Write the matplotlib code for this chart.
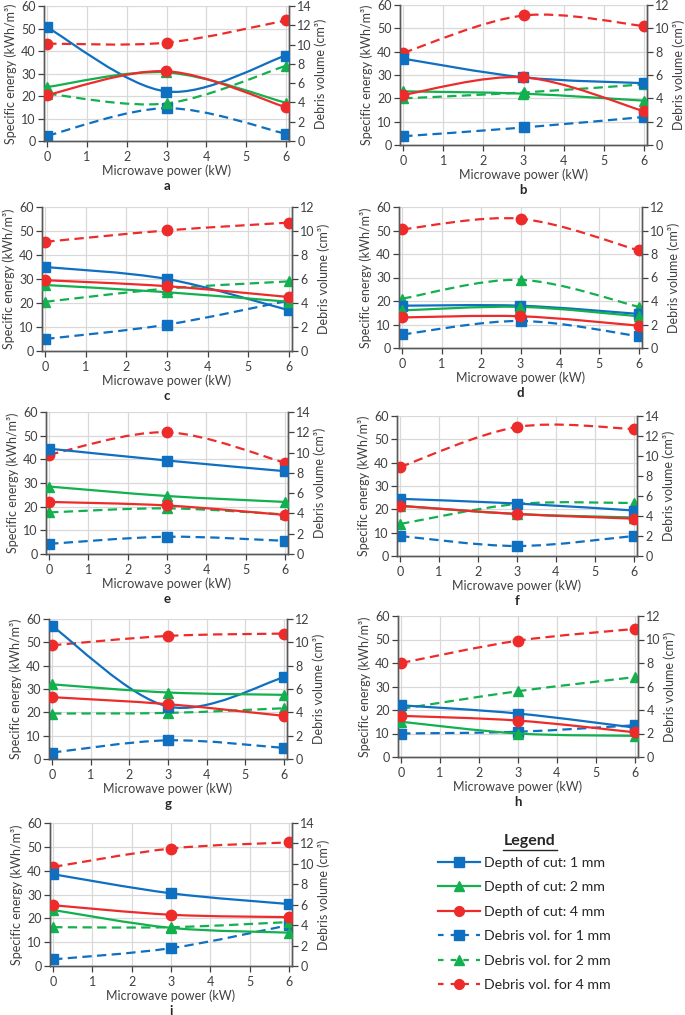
import numpy as np
import matplotlib
matplotlib.use("Agg")
import matplotlib.pyplot as plt
from matplotlib.path import Path
from matplotlib.patches import PathPatch
from matplotlib.lines import Line2D

plt.rcParams['font.family'] = ['Lato', 'DejaVu Sans']

# ---------------- data ----------------
power = [0, 3, 6]
panel_letters = ['a', 'b', 'c', 'd', 'e', 'f', 'g', 'h', 'i']
right_max = [14, 12, 12, 12, 14, 14, 12, 12, 14]

# specific energy (kWh/m3), left axis
energy_1mm = [[50.5, 22, 38], [37, 29, 26.5], [35, 30, 17], [18, 18, 14.5], [44.5, 39.5, 35],
              [24.5, 22.5, 19.5], [57, 22.5, 35], [22, 18.5, 12.5], [38.5, 30.5, 26]]
energy_2mm = [[24, 30.5, 17], [23, 22, 19], [27.5, 24.5, 20.5], [16, 17.5, 13.5], [28.5, 24.5, 22],
              [21.5, 18, 16.5], [32, 28.5, 27.5], [15, 10, 9], [23.5, 16, 14]]
energy_4mm = [[20.5, 31, 15], [21.5, 29, 14.5], [29.5, 27, 22.5], [13, 13.5, 9.5], [22, 20.5, 16.5],
              [21.5, 18, 16], [26.5, 23.5, 18.5], [17.5, 15.5, 10.5], [25.5, 21.5, 20.5]]
# debris volume (cm3), right axis
debris_1mm = [[0.55, 3.4, 0.75], [0.75, 1.5, 2.4], [1.0, 2.2, 4.2], [1.15, 2.3, 1.0], [1.0, 1.7, 1.3],
              [2.0, 1.0, 2.0], [0.55, 1.6, 0.95], [2.0, 2.15, 2.7], [0.65, 1.75, 4.0]]
debris_2mm = [[4.9, 3.9, 7.8], [4.0, 4.5, 5.2], [4.1, 5.2, 5.8], [4.2, 5.8, 3.5], [4.1, 4.5, 3.9],
              [3.2, 5.2, 5.3], [3.9, 3.95, 4.35], [4.1, 5.6, 6.8], [3.8, 3.8, 4.3]]
debris_4mm = [[10.1, 10.2, 12.5], [7.9, 11.1, 10.2], [9.1, 10.05, 10.7], [10.1, 11.0, 8.3], [9.8, 12.0, 9.0],
              [8.9, 12.9, 12.7], [9.75, 10.55, 10.75], [8.0, 9.9, 10.9], [9.7, 11.5, 12.1]]

legend_labels = ['Depth of cut: 1 mm', 'Depth of cut: 2 mm', 'Depth of cut: 4 mm',
                 'Debris vol. for 1 mm', 'Debris vol. for 2 mm', 'Debris vol. for 4 mm']

# ---------------- style ----------------
BLUE = '#0F6FC0'
GREEN = '#12B04E'
RED = '#EE2B2B'
TXT = '#404040'
GRID = '#D9D9D9'
colors = [BLUE, GREEN, RED]
markers = ['s', '^', 'o']
msizes = [7.5, 7.5, 7.5]
DASH = (0, (4.2, 2.4))

W, H = 685, 1015
# panel boxes in pixels: left, top, right, bottom
boxes = [(44, 6, 289, 141), (400, 5, 647, 145),
         (42, 207, 292, 351), (399, 207, 642, 348),
         (46, 412, 288, 554), (397, 416, 637, 556),
         (49, 619, 287, 759), (398, 616, 638, 757),
         (50, 823, 292, 966)]


def smooth_path(x, y):
    pts = np.column_stack([x, y]).astype(float)
    n = len(pts)
    verts = [pts[0]]
    codes = [Path.MOVETO]
    for i in range(n - 1):
        p0 = pts[i - 1] if i > 0 else pts[i]
        p1 = pts[i]
        p2 = pts[i + 1]
        p3 = pts[i + 2] if i + 2 < n else pts[i + 1]
        c1 = p1 + (p2 - p0) / 6.0
        c2 = p2 - (p3 - p1) / 6.0
        verts += [c1, c2, p2]
        codes += [Path.CURVE4] * 3
    return Path(verts, codes)


def draw_series(ax, y, color, marker, ms, dashed):
    path = smooth_path(power, y)
    patch = PathPatch(path, facecolor='none', edgecolor=color, lw=1.6,
                      linestyle=DASH if dashed else '-', capstyle='butt', zorder=3)
    ax.add_patch(patch)
    ax.plot(power, y, linestyle='none', marker=marker, ms=ms, color=color,
            mec=color, zorder=5)


fig = plt.figure(figsize=(W / 100, H / 100), dpi=100)

for k, (l, t, r, b) in enumerate(boxes):
    ax2 = fig.add_axes([l / W, 1 - b / H, (r - l) / W, (b - t) / H])  # background + right axis
    ax = ax2.twinx()  # left axis (energy) on top
    ax2.yaxis.tick_right()
    ax2.yaxis.set_label_position('right')
    ax.yaxis.tick_left()
    ax.yaxis.set_label_position('left')

    ax2.set_xlim(-0.08, 6.08)
    ax.set_ylim(0, 60)
    ax2.set_ylim(0, right_max[k])
    ax2.set_xticks(range(0, 7))
    ax.set_yticks(range(0, 61, 10))
    ax2.set_yticks(range(0, right_max[k] + 1, 2))

    # grid on the background axes (x gridlines and left-axis horizontal gridlines)
    ax2.grid(True, axis='x', color=GRID, lw=0.9, zorder=0)
    for gv in range(10, 61, 10):
        ax2.axhline(gv * right_max[k] / 60.0, color=GRID, lw=0.9, zorder=0)
    ax2.set_axisbelow(True)

    for a in (ax, ax2):
        a.spines['top'].set_visible(False)
        for s in ('left', 'right', 'bottom'):
            a.spines[s].set_color('#595959')
            a.spines[s].set_linewidth(1.0)
        a.tick_params(labelsize=9, colors=TXT, length=4, width=0.9, pad=2)
    ax2.tick_params(axis='x', pad=3)
    ax2.set_xlabel('Microwave power (kW)', fontsize=9, color=TXT, labelpad=1)
    ax.set_ylabel('Specific energy (kWh/m³)', fontsize=9, color=TXT, labelpad=3)
    ax2.set_ylabel('Debris volume (cm³)', fontsize=9, color=TXT, labelpad=2)

    for s, ser in enumerate([debris_1mm, debris_2mm, debris_4mm]):
        draw_series(ax2, ser[k], colors[s], markers[s], msizes[s], True)
    for s, ser in enumerate([energy_1mm, energy_2mm, energy_4mm]):
        draw_series(ax, ser[k], colors[s], markers[s], msizes[s], False)

    fig.text((l + r) / 2 / W, 1 - (b + 45) / H, panel_letters[k], ha='center', va='center',
             fontsize=9.5, fontweight='bold', color='#262626')

# ---------------- legend ----------------
handles = []
for s in range(3):
    handles.append(Line2D([], [], color=colors[s], lw=1.6, marker=markers[s], ms=7))
for s in range(3):
    handles.append(Line2D([], [], color=colors[s], lw=1.6, marker=markers[s], ms=7,
                          linestyle=(0, (2.5, 3.2))))
leg = fig.legend(handles, legend_labels, loc='upper left',
                 bbox_to_anchor=(432 / W, 1 - 851 / H), frameon=False,
                 fontsize=10.2, handlelength=3.0, handletextpad=0.3,
                 labelspacing=0.88, borderaxespad=0)
for txt in leg.get_texts():
    txt.set_color('#262626')
fig.text(530 / W, 1 - 841 / H, 'Legend', ha='center', va='center', fontsize=11.5,
         fontweight='bold', color='#262626')
fig.add_artist(Line2D([503 / W, 557 / W], [1 - 850 / H, 1 - 850 / H], color='#262626', lw=1.0))

fig.savefig('out.png', dpi=100)
